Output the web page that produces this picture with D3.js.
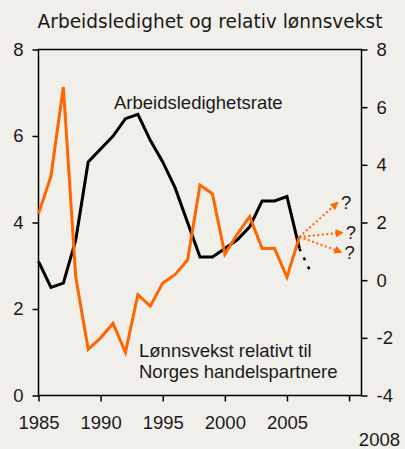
<!DOCTYPE html>
<html><head><meta charset="utf-8">
<script src="https://cdn.jsdelivr.net/npm/d3@7"></script>
<style>
html,body{margin:0;padding:0;background:#f0efe9;}
svg{display:block;}
text{font-family:"Liberation Sans",Arial,sans-serif;fill:#1a1a1a;}
</style></head>
<body>
<script>
const years = [1985,1986,1987,1988,1989,1990,1991,1992,1993,1994,1995,1996,1997,1998,1999,2000,2001,2002,2003,2004,2005,2006];
const unemployment = [3.1,2.5,2.6,3.6,5.4,5.7,6.0,6.4,6.5,5.9,5.4,4.8,4.0,3.2,3.2,3.4,3.6,3.9,4.5,4.5,4.6,3.4];
const unemploymentForecastYears = [2006,2007];
const unemploymentForecast = [3.4,2.8];
const relWage = [2.3,3.6,6.7,0.1,-2.4,-2.0,-1.5,-2.5,-0.5,-0.9,-0.1,0.2,0.7,3.3,3.0,0.9,1.6,2.2,1.1,1.1,0.1,1.5];
const scenarioStartYear = 2006;
const scenarioEndYears = [2009.1,2009.5,2009.4];
const scenarioEndValues = [2.7,1.65,0.97];
const scenarioLabels = ["?","?","?"];
const xTicks = [1985,1990,1995,2000,2005,2010];
const xTickLabels = ["1985","1990","1995","2000","2005",""];
const leftTicks = [0,2,4,6,8];
const rightTicks = [-4,-2,0,2,4,6,8];
const title = "Arbeidsledighet og relativ lønnsvekst";
const unempLabel = "Arbeidsledighetsrate";
const wageLabel = ["Lønnsvekst relativt til","Norges handelspartnere"];
const sourceYear = "2008";

const W = 405, H = 449;
const m = {left:38.5, right:43.5, top:49.5, bottom:53.5};
const svg = d3.select("body").append("svg").attr("width",W).attr("height",H);
svg.append("rect").attr("width",W).attr("height",H).attr("fill","#f0efe9");

const x = d3.scaleLinear().domain([1985,2011]).range([m.left, W-m.right]);
const yL = d3.scaleLinear().domain([0,8]).range([H-m.bottom, m.top]);
const yR = d3.scaleLinear().domain([-4,8]).range([H-m.bottom, m.top]);

// frame
svg.append("rect").attr("x",m.left).attr("y",m.top)
  .attr("width",W-m.left-m.right).attr("height",H-m.top-m.bottom)
  .attr("fill","none").attr("stroke","#000").attr("stroke-width",1.5);

// axes
const fs = 18.5;
const gL = svg.append("g").attr("transform",`translate(${m.left},0)`)
  .call(d3.axisLeft(yL).tickValues(leftTicks).tickSize(6).tickPadding(9).tickFormat(d3.format("d")));
const gR = svg.append("g").attr("transform",`translate(${W-m.right},0)`)
  .call(d3.axisRight(yR).tickValues(rightTicks).tickSize(6).tickPadding(9).tickFormat(d3.format("d")));
const gB = svg.append("g").attr("transform",`translate(0,${H-m.bottom})`)
  .call(d3.axisBottom(x).tickValues(xTicks).tickSize(6).tickPadding(14).tickFormat((d,i)=>xTickLabels[i]));
[gL,gR,gB].forEach(g=>{
  g.select(".domain").remove();
  g.selectAll(".tick line").attr("stroke","#000").attr("stroke-width",1.5);
  g.selectAll(".tick text").attr("font-size",fs).attr("font-family","Liberation Sans, Arial, sans-serif").attr("fill","#1a1a1a");
});
gR.selectAll(".tick text").text(d=>d<0?"-"+Math.abs(d):d);

// lines
const lineU = d3.line().x((d,i)=>x(years[i])).y(d=>yL(d));
svg.append("path").datum(unemployment).attr("d",lineU)
  .attr("fill","none").attr("stroke","#000").attr("stroke-width",3).attr("stroke-linejoin","miter");
const lineUF = d3.line().x((d,i)=>x(unemploymentForecastYears[i])).y(d=>yL(d));
svg.append("path").datum(unemploymentForecast).attr("d",lineUF)
  .attr("fill","none").attr("stroke","#000").attr("stroke-width",2.5).attr("stroke-dasharray","3,7");

const lineW = d3.line().x((d,i)=>x(years[i])).y(d=>yR(d));
svg.append("path").datum(relWage).attr("d",lineW)
  .attr("fill","none").attr("stroke","#ff6600").attr("stroke-width",3).attr("stroke-linejoin","miter");

// arrows
const defs = svg.append("defs");
defs.append("marker").attr("id","arr").attr("viewBox","0 0 10 10").attr("refX",9).attr("refY",5)
  .attr("markerWidth",9).attr("markerHeight",8).attr("markerUnits","userSpaceOnUse").attr("orient","auto")
  .append("path").attr("d","M0,0L10,5L0,10Z").attr("fill","#ff6600");
const startVal = relWage[years.indexOf(scenarioStartYear)];
scenarioEndYears.forEach((ey,i)=>{
  svg.append("line").attr("x1",x(scenarioStartYear)).attr("y1",yR(startVal))
    .attr("x2",x(ey)).attr("y2",yR(scenarioEndValues[i]))
    .attr("stroke","#ff6600").attr("stroke-width",2).attr("stroke-dasharray","2,2.5")
    .attr("marker-end","url(#arr)");
  svg.append("text").attr("x",x(ey)+3).attr("y",yR(scenarioEndValues[i])+6.5)
    .attr("font-size",fs).text(scenarioLabels[i]);
});

// labels
svg.append("text").attr("x",114).attr("y",109).attr("font-size",fs).text(unempLabel);
svg.append("text").attr("x",139).attr("y",357).attr("font-size",fs).text(wageLabel[0]);
svg.append("text").attr("x",139).attr("y",378).attr("font-size",fs).text(wageLabel[1]);
svg.append("text").attr("x",400).attr("y",446).attr("text-anchor","end").attr("font-size",fs).text(sourceYear);

// title
const t = svg.append("text").attr("x",210).attr("y",27.5).attr("text-anchor","middle")
  .style("font-family","'DejaVu Sans',Verdana,sans-serif").attr("font-size",17).text(title);
const tw = t.node().getComputedTextLength();
t.attr("font-size",17*345/tw);
</script>
</body></html>
